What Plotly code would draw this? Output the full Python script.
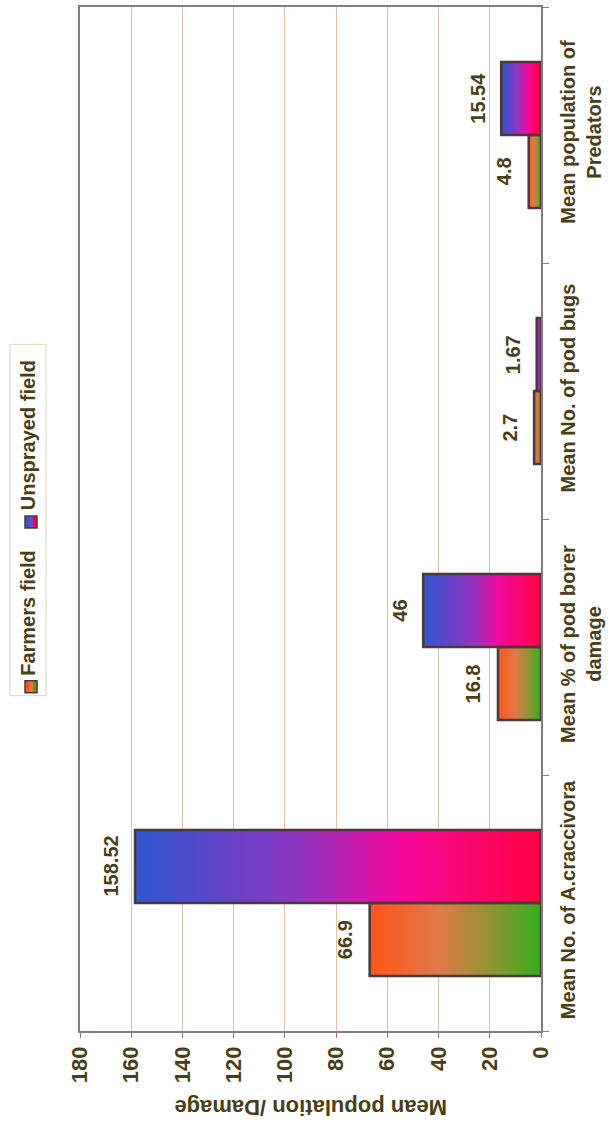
import plotly.graph_objects as go

# ---- data -------------------------------------------------------------
categories = [
    "Mean No. of A.craccivora",
    "Mean % of pod borer<br>damage",
    "Mean No. of pod bugs",
    "Mean population of<br>Predators",
]
farmers_field = [66.9, 16.8, 2.7, 4.8]
unsprayed_field = [158.52, 46, 1.67, 15.54]
value_ticks = [0, 20, 40, 60, 80, 100, 120, 140, 160, 180]
series_names = ["Farmers field", "Unsprayed field"]

# ---- styling ----------------------------------------------------------
W, H = 613, 1124
M_L, M_R, M_T, M_B = 80, 72, 5, 93
FONT = "Liberation Sans"
TEXT = "#4a3e16"
BORDER = "#4b3838"
AXIS = "#8a7888"
GRID = "#e2c2a6"

# colour stops run from the bar base (0) to the bar end (1)
FARMERS_SCALE = [[0, "#34ae1c"], [0.35, "#a09038"], [0.6, "#e0784a"], [1, "#ff5418"]]
UNSPRAYED_SCALE = [[0, "#ff0040"], [0.35, "#f50a9e"], [0.6, "#8e36c2"], [1, "#2d56d0"]]


def screen_scale(scale):
    # the value axis is reversed, so the gradient runs right-to-left on screen
    return [[round(1 - s, 4), c] for s, c in reversed(scale)]


BAR_W = 0.285
OFFSETS = [-BAR_W / 2, BAR_W / 2]
positions = list(range(len(categories)))

fig = go.Figure()

series = [
    (series_names[0], farmers_field, OFFSETS[0], FARMERS_SCALE),
    (series_names[1], unsprayed_field, OFFSETS[1], UNSPRAYED_SCALE),
]

# gradient fill of each bar
for name, values, off, scale in series:
    for p, v in zip(positions, values):
        yc = p + off
        y0, y1 = yc - BAR_W / 2, yc + BAR_W / 2
        fig.add_trace(go.Scatter(
            x=[0, v, v, 0, 0], y=[y0, y0, y1, y1, y0],
            mode="lines", line=dict(width=0), fill="toself",
            fillgradient=dict(type="horizontal", colorscale=screen_scale(scale)),
            hoverinfo="skip", showlegend=False,
        ))

# bar outlines, on an overlaid copy of the axes so they sit above the fills
for name, values, off, scale in series:
    fig.add_trace(go.Bar(
        x=values, y=[p + off for p in positions], orientation="h",
        width=BAR_W, name=name, showlegend=False, xaxis="x2", yaxis="y2",
        marker=dict(color="rgba(0,0,0,0)", line=dict(color=BORDER, width=2.5)),
    ))

# value labels just beyond the bar ends
annotations = []
for name, values, off, scale in series:
    for p, v in zip(positions, values):
        annotations.append(dict(
            x=v, y=p + off, xref="x", yref="y", text=f"{v:g}",
            textangle=-90, showarrow=False, xanchor="center", yanchor="middle",
            xshift=-24, font=dict(family=FONT, size=20, color=TEXT, weight="bold"),
        ))

# value-axis title, upside down beneath the tick labels
annotations.append(dict(
    x=0.5, y=0, xref="paper", yref="paper", text="Mean population /Damage",
    textangle=180, showarrow=False, xanchor="center", yanchor="top", yshift=-62,
    font=dict(family=FONT, size=22, color=TEXT, weight="bold"),
))

# ---- legend, drawn rotated along the left edge -----------------------
pw, ph = W - M_L - M_R, H - M_T - M_B


def px_x(px):
    return (px - M_L) / pw


def px_y(py):
    return (H - M_B - py) / ph


shapes = [dict(type="rect", xref="paper", yref="paper",
               x0=px_x(10), x1=px_x(46), y0=px_y(695), y1=px_y(343),
               line=dict(color="#e6d2b8", width=1), fillcolor="white", layer="below")]

legend_items = [
    (series_names[0], FARMERS_SCALE, 686, 612),
    (series_names[1], UNSPRAYED_SCALE, 521, 434),
]
for label, scale, sw_cy, txt_cy in legend_items:
    cols = [scale[-1][1], scale[len(scale) // 2][1], scale[0][1]]
    sx0, sx1 = 25, 37
    step = (sx1 - sx0) / 3
    for i, c in enumerate(cols):
        shapes.append(dict(type="rect", xref="paper", yref="paper",
                           x0=px_x(sx0 + i * step), x1=px_x(sx0 + (i + 1) * step),
                           y0=px_y(sw_cy + 6), y1=px_y(sw_cy - 6),
                           line=dict(width=0), fillcolor=c))
    shapes.append(dict(type="rect", xref="paper", yref="paper",
                       x0=px_x(sx0), x1=px_x(sx1), y0=px_y(sw_cy + 6), y1=px_y(sw_cy - 6),
                       line=dict(color=BORDER, width=1.5)))
    annotations.append(dict(
        x=px_x(28), y=px_y(txt_cy), xref="paper", yref="paper", text=label,
        textangle=-90, showarrow=False, xanchor="center", yanchor="middle",
        font=dict(family=FONT, size=20, color=TEXT, weight="bold"),
    ))

y_range = [-0.5, len(categories) - 0.5]

fig.update_layout(
    width=W, height=H,
    margin=dict(l=M_L, r=M_R, t=M_T, b=M_B),
    paper_bgcolor="white", plot_bgcolor="white",
    barmode="overlay", showlegend=False,
    font=dict(family=FONT, color=TEXT, weight="bold"),
    annotations=annotations, shapes=shapes,
    xaxis=dict(
        range=[180, 0], tickvals=value_ticks, ticktext=[str(t) for t in value_ticks],
        tickangle=-90, showgrid=True, gridcolor=GRID, gridwidth=1,
        showline=True, linecolor=AXIS, linewidth=1.5, mirror=True,
        ticks="outside", ticklen=5, tickcolor=AXIS, zeroline=False,
        tickfont=dict(family=FONT, size=22, color=TEXT, weight="bold"),
    ),
    yaxis=dict(
        range=y_range, side="right",
        tickvals=positions, ticktext=categories, tickangle=-90,
        showgrid=False, zeroline=False, ticks="", ticklen=0, ticklabelstandoff=8,
        showline=True, linecolor=AXIS, linewidth=1.5, mirror=True,
        minor=dict(tickmode="array", tickvals=[p - 0.5 for p in positions] + [len(categories) - 0.5],
                   ticks="outside", ticklen=6, tickcolor=AXIS, showgrid=False),
        tickfont=dict(family=FONT, size=20, color=TEXT, weight="bold"),
    ),
    xaxis2=dict(overlaying="x", range=[180, 0], visible=False),
    yaxis2=dict(overlaying="y", range=y_range, visible=False),
)

fig.write_html("out.html")
